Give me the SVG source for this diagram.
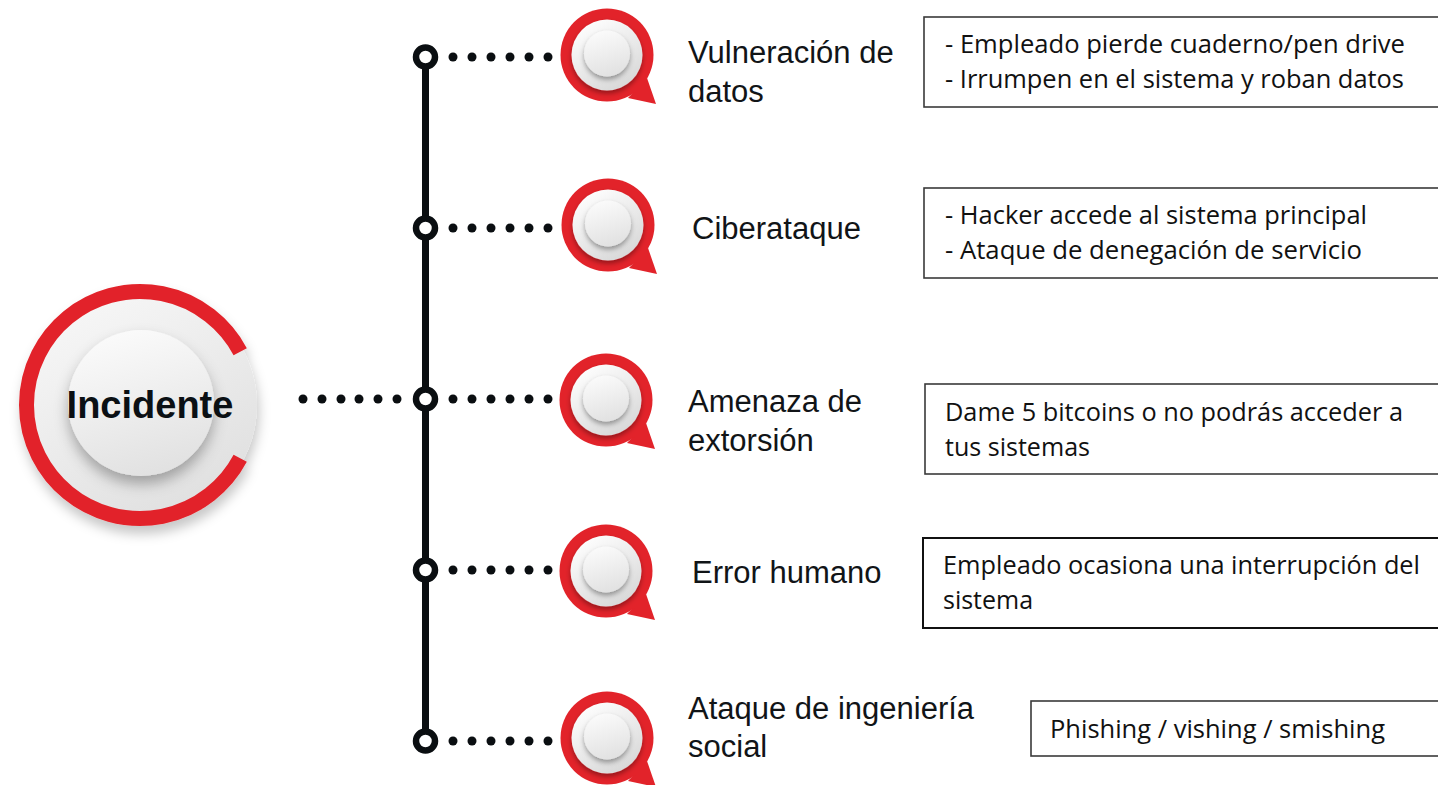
<svg xmlns="http://www.w3.org/2000/svg" width="1438" height="785" viewBox="0 0 1438 785">
<style>
.lbl{font-family:"Liberation Sans",Arial,sans-serif;font-size:31px;fill:#111417}
.box{fill:#fff;stroke:#3a3a3a;stroke-width:1.6}
.btx{font-family:"Open Sans","Noto Sans",sans-serif;font-size:25px;fill:#111}
.dot{fill:#0a0e11}
.jn{fill:#fff;stroke:#0a0e11;stroke-width:6.5}
</style>
<defs>
<linearGradient id="gWhite" x1="0.2" y1="0" x2="0.8" y2="1">
<stop offset="0" stop-color="#ffffff"/>
<stop offset="1" stop-color="#d6d6d6"/>
</linearGradient>
<linearGradient id="gKnob" x1="0.3" y1="0" x2="0.6" y2="1">
<stop offset="0" stop-color="#fbfbfb"/>
<stop offset="1" stop-color="#e1e1e1"/>
</linearGradient>
<linearGradient id="gBig" x1="0.2" y1="0" x2="0.8" y2="1">
<stop offset="0" stop-color="#f8f8f8"/>
<stop offset="1" stop-color="#dedede"/>
</linearGradient>
<filter id="sh" x="-30%" y="-30%" width="160%" height="170%">
<feDropShadow dx="0" dy="3" stdDeviation="2.5" flood-color="#000" flood-opacity="0.35"/>
</filter>
<filter id="shBig" x="-30%" y="-30%" width="160%" height="170%">
<feDropShadow dx="0" dy="8" stdDeviation="7" flood-color="#000" flood-opacity="0.3"/>
</filter>
<filter id="shNode" x="-20%" y="-20%" width="140%" height="150%">
<feDropShadow dx="2" dy="8" stdDeviation="6" flood-color="#000" flood-opacity="0.22"/>
</filter>
<g id="bubble">
<path d="M40 23 L49 49 L21 43 Z" fill="#e2232a"/>
<circle r="46.5" fill="#e2232a"/>
<circle r="35.5" fill="url(#gWhite)" filter="url(#sh)"/>
<circle cy="-1.5" r="23" fill="url(#gKnob)" filter="url(#sh)"/>
</g>
</defs>

<g id="connectors">
<line x1="425.5" y1="57" x2="425.5" y2="741" stroke="#0a0e11" stroke-width="7"/>
<g class="dot">
<circle cx="303" cy="399" r="4.5"/><circle cx="322" cy="399" r="4.5"/><circle cx="341" cy="399" r="4.5"/><circle cx="359" cy="399" r="4.5"/><circle cx="378" cy="399" r="4.5"/><circle cx="397" cy="399" r="4.5"/>
<circle cx="453" cy="57" r="4.5"/><circle cx="472" cy="57" r="4.5"/><circle cx="491" cy="57" r="4.5"/><circle cx="510" cy="57" r="4.5"/><circle cx="529" cy="57" r="4.5"/><circle cx="548" cy="57" r="4.5"/>
<circle cx="453" cy="228" r="4.5"/><circle cx="472" cy="228" r="4.5"/><circle cx="491" cy="228" r="4.5"/><circle cx="510" cy="228" r="4.5"/><circle cx="529" cy="228" r="4.5"/><circle cx="548" cy="228" r="4.5"/>
<circle cx="453" cy="399" r="4.5"/><circle cx="472" cy="399" r="4.5"/><circle cx="491" cy="399" r="4.5"/><circle cx="510" cy="399" r="4.5"/><circle cx="529" cy="399" r="4.5"/><circle cx="548" cy="399" r="4.5"/>
<circle cx="453" cy="570" r="4.5"/><circle cx="472" cy="570" r="4.5"/><circle cx="491" cy="570" r="4.5"/><circle cx="510" cy="570" r="4.5"/><circle cx="529" cy="570" r="4.5"/><circle cx="548" cy="570" r="4.5"/>
<circle cx="453" cy="741" r="4.5"/><circle cx="472" cy="741" r="4.5"/><circle cx="491" cy="741" r="4.5"/><circle cx="510" cy="741" r="4.5"/><circle cx="529" cy="741" r="4.5"/><circle cx="548" cy="741" r="4.5"/>
</g>
<circle class="jn" cx="425.5" cy="57" r="9.5"/>
<circle class="jn" cx="425.5" cy="228" r="9.5"/>
<circle class="jn" cx="425.5" cy="399" r="9.5"/>
<circle class="jn" cx="425.5" cy="570" r="9.5"/>
<circle class="jn" cx="425.5" cy="741" r="9.5"/>
</g>

<g id="incidente">
<g filter="url(#shNode)">
<circle cx="140" cy="405" r="117" fill="url(#gBig)"/>
<path d="M240.2 351.7 A113.5 113.5 0 1 0 240.2 458.3" fill="none" stroke="#e2232a" stroke-width="15"/>
</g>
<circle cx="141" cy="403" r="73" fill="url(#gKnob)" filter="url(#shBig)"/>
<text x="150" y="418" text-anchor="middle" font-family="'Liberation Sans',Arial,sans-serif" font-size="38" font-weight="bold" fill="#0b1014">Incidente</text>
</g>

<g id="n1">
<use href="#bubble" x="607" y="55"/>
<text class="lbl" x="688" y="63">Vulneración de</text>
<text class="lbl" x="688" y="102">datos</text>
<rect class="box" x="924" y="17" width="530" height="90"/>
<text class="btx" x="945" y="53" textLength="460" lengthAdjust="spacingAndGlyphs">- Empleado pierde cuaderno/pen drive</text>
<text class="btx" x="945" y="88" textLength="459" lengthAdjust="spacingAndGlyphs">- Irrumpen en el sistema y roban datos</text>
</g>

<g id="n2">
<use href="#bubble" x="608" y="225"/>
<text class="lbl" x="692" y="239">Ciberataque</text>
<rect class="box" x="924" y="188" width="530" height="90"/>
<text class="btx" x="945" y="224" textLength="422" lengthAdjust="spacingAndGlyphs">- Hacker accede al sistema principal</text>
<text class="btx" x="945" y="259" textLength="417" lengthAdjust="spacingAndGlyphs">- Ataque de denegación de servicio</text>
</g>

<g id="n3">
<use href="#bubble" x="606" y="400"/>
<text class="lbl" x="688" y="412">Amenaza de</text>
<text class="lbl" x="688" y="451">extorsión</text>
<rect class="box" x="925" y="384" width="530" height="90"/>
<text class="btx" x="945" y="421" textLength="458" lengthAdjust="spacingAndGlyphs">Dame 5 bitcoins o no podrás acceder a</text>
<text class="btx" x="945" y="456" textLength="145" lengthAdjust="spacingAndGlyphs">tus sistemas</text>
</g>

<g id="n4">
<use href="#bubble" x="606" y="571"/>
<text class="lbl" x="692" y="583">Error humano</text>
<rect class="box" x="923" y="538" width="530" height="90" style="stroke:#111;stroke-width:2"/>
<text class="btx" x="943" y="574" textLength="477" lengthAdjust="spacingAndGlyphs">Empleado ocasiona una interrupción del</text>
<text class="btx" x="943" y="609" textLength="90" lengthAdjust="spacingAndGlyphs">sistema</text>
</g>

<g id="n5">
<use href="#bubble" x="607" y="738"/>
<text class="lbl" x="688" y="719">Ataque de ingeniería</text>
<text class="lbl" x="688" y="757">social</text>
<rect class="box" x="1031" y="701" width="420" height="55"/>
<text class="btx" x="1050" y="738" textLength="335" lengthAdjust="spacingAndGlyphs">Phishing / vishing / smishing</text>
</g>
</svg>
